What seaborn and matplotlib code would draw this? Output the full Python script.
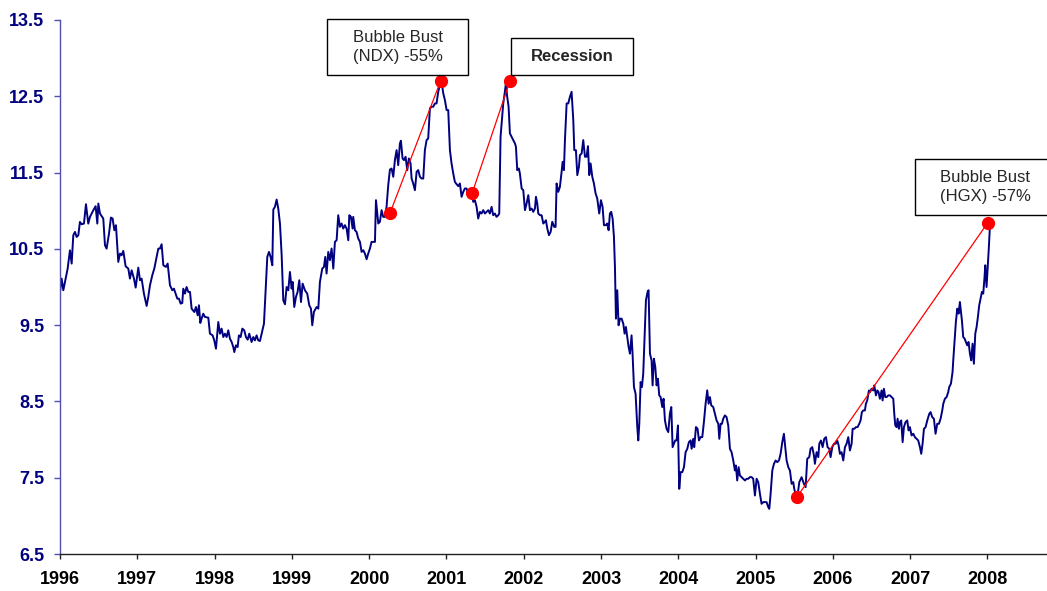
import numpy as np
import pandas as pd
import seaborn as sns
import matplotlib.pyplot as plt
from matplotlib.patches import Rectangle

# weekly-ish series (decimal year, value)
years_96_99 = [1996.000, 1996.021, 1996.043, 1996.064, 1996.099, 1996.129, 1996.151, 1996.172, 1996.194, 1996.215,
               1996.237, 1996.258, 1996.280, 1996.310, 1996.336, 1996.366, 1996.388, 1996.409, 1996.431, 1996.461,
               1996.483, 1996.496, 1996.517, 1996.560, 1996.582, 1996.603, 1996.634, 1996.659, 1996.681, 1996.703,
               1996.724, 1996.754, 1996.776, 1996.797, 1996.819, 1996.849, 1996.884, 1996.905, 1996.927, 1996.957,
               1996.979, 1997.013, 1997.035, 1997.056, 1997.086, 1997.121, 1997.142, 1997.164, 1997.194, 1997.220,
               1997.242, 1997.272, 1997.293, 1997.315, 1997.337, 1997.371, 1997.393, 1997.423, 1997.453, 1997.474,
               1997.496, 1997.518, 1997.539, 1997.561, 1997.582, 1997.595, 1997.617, 1997.638, 1997.660, 1997.682,
               1997.703, 1997.738, 1997.759, 1997.781, 1997.798, 1997.815, 1997.832, 1997.854, 1997.875, 1997.919,
               1997.940, 1997.975, 1997.996, 1998.018, 1998.048, 1998.070, 1998.091, 1998.113, 1998.134, 1998.156,
               1998.177, 1998.199, 1998.221, 1998.242, 1998.255, 1998.277, 1998.298, 1998.315, 1998.337, 1998.359,
               1998.384, 1998.406, 1998.428, 1998.449, 1998.479, 1998.501, 1998.522, 1998.544, 1998.565, 1998.587,
               1998.609, 1998.639, 1998.660, 1998.682, 1998.704, 1998.725, 1998.747, 1998.760, 1998.781, 1998.803,
               1998.824, 1998.846, 1998.868, 1998.889, 1998.911, 1998.932, 1998.954, 1998.975, 1998.997, 1999.010,
               1999.031, 1999.053, 1999.074, 1999.096, 1999.118, 1999.139]
vals_96_99 = [9.935, 10.110, 9.957, 10.066, 10.241, 10.481, 10.307, 10.678, 10.722, 10.656,
              10.678, 10.853, 10.823, 10.831, 11.085, 10.831, 10.919, 10.963, 11.006, 11.059,
              10.831, 11.094, 10.963, 10.897, 10.547, 10.503, 10.700, 10.910, 10.897, 10.744,
              10.810, 10.328, 10.438, 10.416, 10.473, 10.272, 10.241, 10.110, 10.219, 10.110,
              9.992, 10.254, 10.088, 10.110, 9.913, 9.751, 9.869, 10.022, 10.153, 10.241,
              10.350, 10.503, 10.503, 10.560, 10.285, 10.263, 10.307, 10.022, 9.957, 9.978,
              9.913, 9.847, 9.847, 9.782, 9.790, 9.978, 9.913, 10.000, 9.935, 9.935,
              9.716, 9.672, 9.738, 9.629, 9.760, 9.528, 9.585, 9.650, 9.607, 9.598,
              9.388, 9.366, 9.300, 9.191, 9.541, 9.388, 9.454, 9.344, 9.388, 9.344,
              9.432, 9.322, 9.279, 9.213, 9.147, 9.235, 9.213, 9.366, 9.344, 9.454,
              9.432, 9.344, 9.309, 9.388, 9.279, 9.344, 9.300, 9.366, 9.300, 9.292,
              9.388, 9.519, 9.957, 10.394, 10.460, 10.394, 10.285, 11.015, 11.050, 11.146,
              11.028, 10.831, 10.416, 9.825, 9.773, 10.000, 9.957, 10.197, 9.978, 10.066,
              9.738, 9.869, 9.935, 10.088, 9.803, 10.044]

years_99_02 = [1999.169, 1999.199, 1999.225, 1999.247, 1999.264, 1999.285, 1999.320, 1999.342, 1999.363, 1999.393,
               1999.415, 1999.432, 1999.449, 1999.471, 1999.492, 1999.514, 1999.536, 1999.557, 1999.579, 1999.600,
               1999.622, 1999.643, 1999.665, 1999.686, 1999.708, 1999.730, 1999.743, 1999.764, 1999.786, 1999.794,
               1999.816, 1999.837, 1999.859, 1999.881, 1999.902, 1999.924, 1999.945, 1999.967, 1999.988, 2000.010,
               2000.031, 2000.053, 2000.075, 2000.088, 2000.105, 2000.118, 2000.139, 2000.161, 2000.182, 2000.204,
               2000.225, 2000.247, 2000.269, 2000.290, 2000.312, 2000.333, 2000.355, 2000.376, 2000.398, 2000.411,
               2000.432, 2000.450, 2000.471, 2000.493, 2000.514, 2000.536, 2000.549, 2000.570, 2000.592, 2000.614,
               2000.635, 2000.657, 2000.678, 2000.700, 2000.721, 2000.743, 2000.764, 2000.786, 2000.808, 2000.829,
               2000.851, 2000.872, 2000.894, 2000.915, 2000.937, 2000.959, 2000.980, 2001.002, 2001.023, 2001.045,
               2001.066, 2001.088, 2001.109, 2001.131, 2001.153, 2001.174, 2001.196, 2001.217, 2001.239, 2001.260,
               2001.282, 2001.303, 2001.325, 2001.347, 2001.368, 2001.390, 2001.411, 2001.433, 2001.454, 2001.476,
               2001.498, 2001.519, 2001.541, 2001.562, 2001.584, 2001.605, 2001.627, 2001.648, 2001.670, 2001.683,
               2001.700, 2001.717, 2001.735, 2001.756, 2001.769, 2001.786, 2001.804, 2001.821, 2001.843, 2001.864,
               2001.886, 2001.899, 2001.916, 2001.937, 2001.950]
vals_99_02 = [9.957, 9.913, 9.760, 9.716, 9.498, 9.673, 9.738, 9.716, 10.066, 10.241,
              10.263, 10.394, 10.176, 10.460, 10.351, 10.504, 10.241, 10.591, 10.613, 10.941,
              10.788, 10.832, 10.766, 10.810, 10.766, 10.613, 10.941, 10.919, 10.766, 10.919,
              10.744, 10.722, 10.635, 10.591, 10.460, 10.482, 10.438, 10.364, 10.438, 10.504,
              10.591, 10.591, 10.591, 11.138, 10.963, 10.832, 10.854, 11.007, 10.919, 10.919,
              11.050, 11.335, 11.540, 11.553, 11.444, 11.663, 11.794, 11.597, 11.882, 11.917,
              11.685, 11.663, 11.707, 11.532, 11.685, 11.619, 11.422, 11.357, 11.269, 11.510,
              11.532, 11.444, 11.422, 11.422, 11.794, 11.925, 11.947, 12.341, 12.363, 12.363,
              12.406, 12.406, 12.560, 12.647, 12.691, 12.538, 12.450, 12.319, 12.319, 11.794,
              11.619, 11.488, 11.378, 11.348, 11.322, 11.357, 11.182, 11.247, 11.291, 11.291,
              11.225, 11.247, 11.247, 11.116, 11.138, 11.050, 10.897, 10.985, 10.963, 11.007,
              10.963, 10.985, 11.007, 10.963, 11.050, 10.941, 10.963, 10.919, 10.941, 10.963,
              11.969, 12.188, 12.406, 12.560, 12.669, 12.494, 12.363, 12.013, 11.969, 11.925,
              11.882, 11.838, 11.532, 11.553, 11.488]

years_02_05 = [2001.973, 2001.994, 2002.016, 2002.037, 2002.059, 2002.080, 2002.102, 2002.123, 2002.145, 2002.158,
               2002.175, 2002.188, 2002.210, 2002.231, 2002.253, 2002.274, 2002.287, 2002.305, 2002.326, 2002.348,
               2002.369, 2002.395, 2002.412, 2002.425, 2002.447, 2002.468, 2002.490, 2002.503, 2002.520, 2002.533,
               2002.555, 2002.576, 2002.598, 2002.619, 2002.641, 2002.654, 2002.675, 2002.693, 2002.714, 2002.727,
               2002.749, 2002.770, 2002.792, 2002.813, 2002.831, 2002.848, 2002.865, 2002.887, 2002.908, 2002.930,
               2002.951, 2002.977, 2002.999, 2003.020, 2003.038, 2003.063, 2003.081, 2003.098, 2003.115, 2003.132,
               2003.150, 2003.167, 2003.180, 2003.193, 2003.210, 2003.227, 2003.245, 2003.266, 2003.288, 2003.305,
               2003.322, 2003.339, 2003.357, 2003.374, 2003.395, 2003.408, 2003.426, 2003.447, 2003.469, 2003.482,
               2003.495, 2003.512, 2003.529, 2003.546, 2003.568, 2003.581, 2003.602, 2003.615, 2003.633, 2003.654,
               2003.667, 2003.684, 2003.702, 2003.719, 2003.736, 2003.753, 2003.771, 2003.792, 2003.809, 2003.827,
               2003.848, 2003.870, 2003.891, 2003.909, 2003.926, 2003.943, 2003.960, 2003.978, 2003.995, 2004.012,
               2004.029, 2004.051, 2004.073, 2004.094, 2004.116, 2004.137, 2004.159, 2004.172, 2004.193, 2004.206,
               2004.228, 2004.249, 2004.267, 2004.288, 2004.310, 2004.331, 2004.353, 2004.374, 2004.392, 2004.409,
               2004.426, 2004.452, 2004.474, 2004.495, 2004.517, 2004.530, 2004.547, 2004.564, 2004.581, 2004.603,
               2004.624, 2004.646, 2004.668, 2004.689, 2004.711, 2004.732, 2004.745, 2004.762, 2004.780, 2004.797,
               2004.819, 2004.840, 2004.862, 2004.883, 2004.905, 2004.926, 2004.948, 2004.969, 2004.991, 2005.013,
               2005.034, 2005.056, 2005.077, 2005.099, 2005.120, 2005.142, 2005.164]
vals_02_05 = [11.291, 11.269, 11.007, 11.094, 11.204, 11.007, 11.029, 10.985, 11.029, 11.182,
              11.094, 10.963, 10.941, 10.941, 10.832, 10.854, 10.875, 10.766, 10.679, 10.722,
              10.854, 10.788, 10.788, 11.357, 11.247, 11.313, 11.510, 11.641, 11.532, 11.925,
              12.406, 12.406, 12.494, 12.559, 12.188, 11.794, 11.794, 11.466, 11.575, 11.728,
              11.750, 11.925, 11.707, 11.707, 11.846, 11.466, 11.619, 11.444, 11.357, 11.225,
              11.160, 10.963, 11.138, 11.050, 10.810, 10.810, 10.832, 10.744, 10.963, 10.985,
              10.897, 10.657, 10.263, 9.585, 9.957, 9.498, 9.585, 9.585, 9.519, 9.388,
              9.476, 9.345, 9.213, 9.126, 9.366, 9.126, 8.688, 8.601, 8.164, 7.989,
              8.207, 8.754, 8.688, 8.863, 9.476, 9.826, 9.935, 9.957, 9.126, 9.038,
              8.710, 9.060, 8.951, 8.710, 8.798, 8.579, 8.557, 8.426, 8.535, 8.251,
              8.142, 8.098, 8.339, 8.426, 7.901, 7.945, 7.989, 7.989, 8.185, 7.354,
              7.573, 7.573, 7.639, 7.835, 7.879, 7.967, 7.989, 7.879, 8.010, 7.901,
              8.164, 8.142, 7.989, 8.032, 8.032, 8.229, 8.470, 8.645, 8.470, 8.557,
              8.448, 8.426, 8.339, 8.251, 8.207, 8.010, 8.207, 8.207, 8.273, 8.317,
              8.295, 8.185, 7.879, 7.835, 7.726, 7.595, 7.661, 7.464, 7.639, 7.529,
              7.508, 7.486, 7.464, 7.486, 7.486, 7.508, 7.508, 7.486, 7.267, 7.486,
              7.442, 7.289, 7.158, 7.180, 7.180, 7.180, 7.114]

years_05_08 = [2005.177, 2005.194, 2005.216, 2005.237, 2005.259, 2005.280, 2005.302, 2005.323, 2005.345, 2005.366,
               2005.379, 2005.401, 2005.423, 2005.444, 2005.466, 2005.487, 2005.500, 2005.522, 2005.543, 2005.565,
               2005.595, 2005.625, 2005.647, 2005.668, 2005.694, 2005.711, 2005.733, 2005.755, 2005.767, 2005.789,
               2005.811, 2005.824, 2005.845, 2005.867, 2005.888, 2005.910, 2005.931, 2005.953, 2005.970, 2005.992,
               2006.013, 2006.035, 2006.056, 2006.074, 2006.091, 2006.112, 2006.134, 2006.156, 2006.177, 2006.199,
               2006.220, 2006.242, 2006.255, 2006.276, 2006.298, 2006.319, 2006.341, 2006.358, 2006.375, 2006.393,
               2006.414, 2006.427, 2006.444, 2006.466, 2006.479, 2006.500, 2006.522, 2006.535, 2006.557, 2006.574,
               2006.591, 2006.608, 2006.630, 2006.643, 2006.660, 2006.677, 2006.695, 2006.716, 2006.738, 2006.759,
               2006.781, 2006.794, 2006.807, 2006.824, 2006.837, 2006.854, 2006.867, 2006.884, 2006.902, 2006.919,
               2006.940, 2006.962, 2006.979, 2006.996, 2007.018, 2007.040, 2007.061, 2007.083, 2007.104, 2007.126,
               2007.143, 2007.160, 2007.178, 2007.199, 2007.221, 2007.247, 2007.264, 2007.285, 2007.307, 2007.328,
               2007.350, 2007.372, 2007.393, 2007.415, 2007.428, 2007.449, 2007.471, 2007.492, 2007.505, 2007.527,
               2007.548, 2007.557, 2007.574, 2007.591, 2007.609, 2007.626, 2007.643, 2007.660, 2007.669, 2007.686,
               2007.704, 2007.721, 2007.738, 2007.755, 2007.773, 2007.790, 2007.807, 2007.824, 2007.842, 2007.859,
               2007.876, 2007.893, 2007.911, 2007.928, 2007.945, 2007.962, 2007.971, 2007.988, 2008.005, 2008.018,
               2008.031, 2008.040]
vals_05_08 = [7.092, 7.288, 7.595, 7.682, 7.726, 7.704, 7.726, 7.813, 7.966, 8.076,
              7.945, 7.726, 7.638, 7.595, 7.420, 7.442, 7.354, 7.267, 7.267, 7.442,
              7.507, 7.420, 7.376, 7.748, 7.770, 7.879, 7.901, 7.791, 7.682, 7.835,
              7.770, 7.945, 7.988, 7.901, 8.010, 8.032, 7.901, 7.879, 7.770, 7.901,
              7.945, 7.945, 7.988, 7.923, 7.813, 7.835, 7.726, 7.901, 7.945, 8.032,
              7.857, 7.945, 8.141, 8.141, 8.163, 8.163, 8.207, 8.251, 8.360, 8.382,
              8.382, 8.469, 8.513, 8.644, 8.622, 8.666, 8.644, 8.710, 8.579, 8.644,
              8.622, 8.535, 8.644, 8.513, 8.666, 8.557, 8.557, 8.579, 8.579, 8.557,
              8.535, 8.338, 8.185, 8.163, 8.273, 8.141, 8.229, 8.251, 7.966, 8.163,
              8.229, 8.251, 8.120, 8.163, 8.054, 8.076, 8.032, 8.010, 7.988, 7.901,
              7.813, 7.945, 8.141, 8.163, 8.251, 8.338, 8.360, 8.294, 8.273, 8.076,
              8.207, 8.207, 8.273, 8.382, 8.469, 8.535, 8.557, 8.622, 8.688, 8.732,
              8.885, 9.038, 9.300, 9.541, 9.716, 9.650, 9.803, 9.650, 9.563, 9.344,
              9.322, 9.279, 9.235, 9.279, 9.125, 9.038, 9.257, 8.994, 9.388, 9.475,
              9.607, 9.760, 9.847, 9.935, 9.913, 10.132, 10.285, 10.000, 10.285, 10.525,
              10.788, 10.853]

# red markers: start / end of each move
move_start_years = [2000.269, 2001.334, 2005.539]
move_start_vals = [10.967, 11.234, 7.253]
move_end_years = [2000.924, 2001.821, 2008.005]
move_end_vals = [12.699, 12.699, 10.845]

labels = ["Bubble Bust\n(NDX) -55%", "Recession", "Bubble Bust\n(HGX) -57%"]

df = pd.DataFrame({
    "year": years_96_99 + years_99_02 + years_02_05 + years_05_08,
    "value": vals_96_99 + vals_99_02 + vals_02_05 + vals_05_08,
})

sns.set_style("white")
plt.rcParams['font.family'] = ['Liberation Sans', 'DejaVu Sans']

fig = plt.figure(figsize=(10.47, 5.91), dpi=100)
ax = fig.add_axes([0.0573, 0.0626, 0.9427, 0.9036])

sns.lineplot(data=df, x="year", y="value", estimator=None, color="#000080", lw=1.4, ax=ax)

for x0, y0, x1, y1 in zip(move_start_years, move_start_vals, move_end_years, move_end_vals):
    ax.plot([x0, x1], [y0, y1], color="red", lw=0.9, zorder=4)
    ax.plot([x0, x1], [y0, y1], "o", color="red", ms=8.5, zorder=5)

ax.set_xlim(1996, 2008.77)
ax.set_ylim(6.5, 13.5)
ax.set_xticks(range(1996, 2009))
ax.set_xticklabels([str(y) for y in range(1996, 2009)], fontsize=13, fontweight="bold", color="black")
yt = np.arange(6.5, 13.6, 1.0)
ax.set_yticks(yt)
ax.set_yticklabels([f"{v:.1f}" for v in yt], fontsize=13, fontweight="bold", color="#000080")
ax.set_xlabel("")
ax.set_ylabel("")

for s in ["top", "right"]:
    ax.spines[s].set_visible(False)
ax.spines["left"].set_color("#5050b0")
ax.spines["left"].set_linewidth(1.0)
ax.spines["bottom"].set_color("#222222")
ax.spines["bottom"].set_linewidth(1.0)
ax.tick_params(axis="y", direction="out", length=4.5, width=1, color="#5050b0", pad=7, left=True)
ax.tick_params(axis="x", direction="out", length=3.5, width=1, color="#222222", pad=9, bottom=True)

# annotation boxes (figure fractions)
boxes = [
    (0.3123, 0.8731, 0.1347, 0.0948, 0.3797, 0.9205, "normal"),
    (0.4881, 0.8731, 0.1165, 0.0626, 0.5463, 0.9044, "bold"),
    (0.8739, 0.6362, 0.1400, 0.0948, 0.9408, 0.6836, "normal"),
]
for (bx, by, bw, bh, tx, ty, wt), lab in zip(boxes, labels):
    fig.patches.append(Rectangle((bx, by), bw, bh, transform=fig.transFigure,
                                 facecolor="white", edgecolor="black", lw=1.0, zorder=10))
    fig.text(tx, ty, lab, ha="center", va="center", fontsize=12, fontweight=wt,
             linespacing=1.3, zorder=11)

fig.savefig("out.png", dpi=100)
